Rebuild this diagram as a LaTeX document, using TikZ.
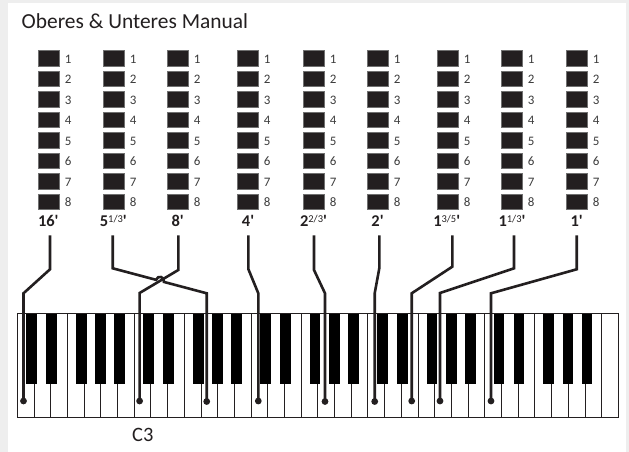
\documentclass[tikz,border=0pt]{standalone}
\usepackage{fontspec}
\setmainfont{Carlito}
\definecolor{ink}{HTML}{231F20}
\definecolor{framegray}{HTML}{EEEEEE}
\definecolor{numgray}{HTML}{3C3C3C}
\definecolor{baredge}{HTML}{707070}
\newcommand{\ftlabel}[2]{\fontsize{16.5}{16.5}\selectfont\bfseries #1\ifx\relax#2\relax\else\raisebox{4.4bp}{\fontsize{10.5}{10.5}\selectfont\mdseries #2}\fi\textquotesingle}
\begin{document}
\begin{tikzpicture}[x=1bp,y=-1bp,
  bar/.style={fill=ink,draw=baredge,line width=0.7bp},
  num/.style={text=numgray,font=\fontsize{13}{13}\selectfont,anchor=base,inner sep=0},
  foot/.style={text=ink,anchor=base,inner sep=0},
  wire/.style={draw=ink,line width=2.6bp},
  keyline/.style={draw=ink,line width=0.8bp},
  blackkey/.style={fill=black},
  dot/.style={fill=ink}]
\useasboundingbox (0,0) rectangle (629,452);
% page frame
\fill[framegray] (0,0) rectangle (629,452);
\fill[white] (8,3) rectangle (626,452);

% heading
\node[anchor=base west,inner sep=0,text=ink,font=\fontsize{21.5}{21.5}\selectfont] (title) at (21.5,28.7) {Oberes \& Unteres Manual};

% drawbar columns with their positions 1..8
\foreach \L in {38,103,167,237,303,367,437,501,566} {
  \foreach \r in {1,...,8} {
    \pgfmathsetmacro{\top}{50.7+20.47*(\r-1)}
    \draw[bar] (\L,\top) rectangle ++(21,15.5);
    \node[num] at (\L+30.2,\top+12.6) {\r};
  }
}

% footage labels
\node[foot] (f1) at (48.3,226.7) {\ftlabel{16}{}};
\node[foot] (f2) at (113.3,226.7) {\ftlabel{5}{1/3}};
\node[foot] (f3) at (177.7,226.7) {\ftlabel{8}{}};
\node[foot] (f4) at (248,226.7) {\ftlabel{4}{}};
\node[foot] (f5) at (313.5,226.7) {\ftlabel{2}{2/3}};
\node[foot] (f6) at (377.5,226.7) {\ftlabel{2}{}};
\node[foot] (f7) at (446.7,226.7) {\ftlabel{1}{3/5}};
\node[foot] (f8) at (512,226.7) {\ftlabel{1}{1/3}};
\node[foot] (f9) at (576.7,226.7) {\ftlabel{1}{}};

% keyboard: 36 white keys, C to C
\foreach \i in {0,...,35}
  \draw[keyline] (17.3+\i*16.694,313.3) rectangle ++(16.694,104.4);
\foreach \o in {0,...,4}
  \foreach \dx in {9,29,58.7,78,97}
    \fill[blackkey] (17.3+\o*116.86+\dx,313.3) rectangle ++(10.7,71);
\draw[keyline] (17.3,313.3) rectangle (618.3,417.7);

\node[anchor=base,inner sep=0,text=ink,font=\fontsize{20.5}{20.5}\selectfont] (c3) at (142.8,441.7) {C3};

% wire start points below the labels
\coordinate (a1) at (50,235.5);
\coordinate (a2) at (112.7,235.5);
\coordinate (a3) at (178.3,235.5);
\coordinate (a4) at (248.3,235.5);
\coordinate (a5) at (314,235.5);
\coordinate (a6) at (379.3,235.5);
\coordinate (a7) at (452.3,235.5);
\coordinate (a8) at (514,235.5);
\coordinate (a9) at (576.7,235.5);
% key contacts
\coordinate (k1) at (23.5,401);
\coordinate (k2) at (206.7,401.5);
\coordinate (k3) at (139.6,401);
\coordinate (k4) at (258.3,401);
\coordinate (k5) at (325,401.5);
\coordinate (k6) at (374.7,401.5);
\coordinate (k7) at (411.7,401);
\coordinate (k8) at (440,401);
\coordinate (k9) at (491,401);

\draw[wire] (a1) -- ++(0,33.8) -- (k1 |- 0,293.3) -- (k1);
\draw[wire] (a3) -- ++(0,34.5) -- (k3 |- 0,293) -- (k3);
\draw[wire] (a2) -- ++(0,32.8) -- (156.13,279.85)
  .. controls (157.5,274.7) and (165.24,276.76) .. (163.87,281.91)
  -- (k2 |- 0,293.3) -- (k2);
\draw[wire] (a4) -- ++(0,33.5) -- (k4 |- 0,293.3) -- (k4);
\draw[wire] (a5) -- ++(0,34.5) -- (k5 |- 0,293.3) -- (k5);
\draw[wire] (a6) -- ++(0,32.8) -- (k6 |- 0,293.3) -- (k6);
\draw[wire] (a7) -- ++(0,31.2) -- (k7 |- 0,293.3) -- (k7);
\draw[wire] (a8) -- ++(0,32.8) -- (k8 |- 0,293) -- (k8);
\draw[wire] (a9) -- ++(0,33.8) -- (k9 |- 0,293.3) -- (k9);

\foreach \k in {k1,k2,k3,k4,k5,k6,k7,k8,k9}
  \fill[dot] (\k) circle (3.4);
\end{tikzpicture}
\end{document}
